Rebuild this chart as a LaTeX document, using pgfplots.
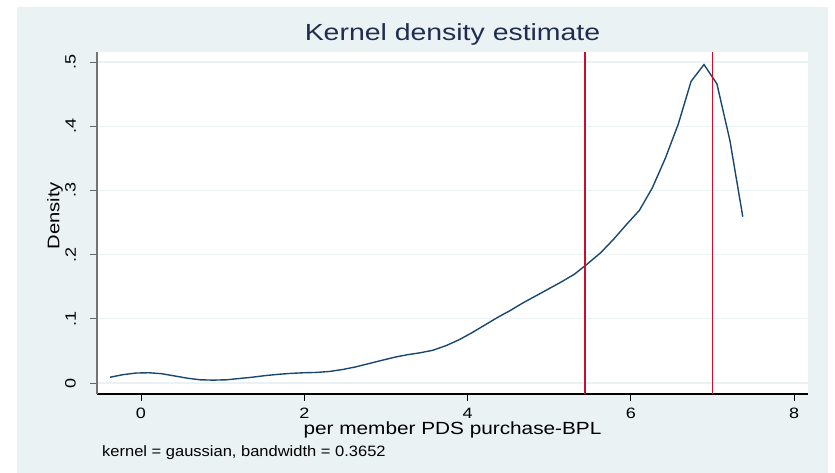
\documentclass[border=0pt]{standalone}
\usepackage{pgfplots}
\pgfplotsset{compat=1.18}
\usepackage{fontspec}
\setmainfont{Liberation Sans}
\definecolor{bgc}{HTML}{EAF2F3}
\definecolor{navy}{HTML}{1A476F}
\definecolor{vred}{HTML}{C8102E}
\definecolor{ttl}{HTML}{1F2D50}
\newcommand{\sx}[1]{\scalebox{1.2}[1]{#1}}
\begin{document}
\begin{tikzpicture}[x=1pt,y=1pt]
\path[use as bounding box] (0,0) rectangle (835,473);
\fill[bgc] (17,0) rectangle (828,466);
\begin{axis}[
  at={(97pt,79pt)}, anchor=south west,
  scale only axis, width=711pt, height=342pt,
  xmin=-0.539, xmax=8.171, ymin=-0.0171, ymax=0.5156,
  axis background/.style={fill=white},
  axis lines*=left,
  x axis line style={black, line width=1.2pt},
  y axis line style={black!55, line width=1.2pt},
  tick align=outside, major tick length=7pt,
  xtick pos=left, ytick pos=left,
  x tick style={black, line width=1pt},
  y tick style={black!60, line width=1pt},
  xtick={0,2,4,6,8},
  xticklabels={\sx{0},\sx{2},\sx{4},\sx{6},\sx{8}},
  ytick={0,0.1,0.2,0.3,0.4,0.5},
  yticklabels={\sx{0},\sx{.1},\sx{.2},\sx{.3},\sx{.4},\sx{.5}},
  xticklabel style={font=\fontsize{15}{18}\selectfont, anchor=north, inner sep=0pt, yshift=-7.3pt},
  yticklabel style={font=\fontsize{15}{18}\selectfont, xshift=-14pt, rotate=90, anchor=south, inner sep=0pt},
  ymajorgrids, xmajorgrids=false,
  major grid style={bgc, line width=1.3pt},
  title={\scalebox{1.22}[1]{Kernel density estimate}},
  title style={at={(axis description cs:0.5,1)}, anchor=base, yshift=5pt, font=\fontsize{23.3}{28}\selectfont, text=ttl, inner sep=0pt},
  xlabel={\scalebox{1.18}[1]{per member PDS purchase-BPL}},
  xlabel style={at={(axis description cs:0.5,0)}, anchor=base, yshift=-41pt, font=\fontsize{17.6}{20}\selectfont, inner sep=0pt},
  ylabel={\scalebox{1.2}[1]{Density}},
  ylabel style={at={(axis description cs:-0.053,0.521)}, anchor=base, font=\fontsize{16.8}{20}\selectfont, inner sep=0pt},
  clip=true,
]
\addplot[navy, line width=1.4pt] coordinates {
(-0.380,0.009) (-0.222,0.013) (-0.064,0.0155) (0.095,0.016) (0.253,0.0145)
(0.411,0.011) (0.569,0.0075) (0.727,0.005) (0.886,0.0045) (1.044,0.005)
(1.202,0.007) (1.360,0.009) (1.518,0.0115) (1.677,0.0135) (1.835,0.015)
(1.993,0.016) (2.151,0.0165) (2.309,0.018) (2.468,0.021) (2.626,0.025)
(2.784,0.030) (2.942,0.035) (3.100,0.040) (3.259,0.044) (3.417,0.047)
(3.575,0.051) (3.733,0.058) (3.891,0.067) (4.050,0.078) (4.208,0.090)
(4.366,0.102) (4.524,0.113) (4.682,0.125) (4.841,0.136) (4.999,0.147)
(5.157,0.158) (5.315,0.170) (5.473,0.186) (5.632,0.203) (5.790,0.224)
(5.948,0.247) (6.106,0.269) (6.264,0.304) (6.423,0.350) (6.581,0.403)
(6.739,0.470) (6.897,0.496) (7.055,0.466) (7.214,0.378) (7.372,0.259)
};
\addplot[vred, line width=1.5pt] coordinates {(5.44,-0.0171) (5.44,0.5156)};
\addplot[vred, line width=1.5pt] coordinates {(7.0,-0.0171) (7.0,0.5156)};
\end{axis}
\node[anchor=base west, inner sep=0pt, font=\fontsize{15}{18}\selectfont] at (102,16.3) {\scalebox{1.1}[1]{kernel = gaussian, bandwidth = 0.3652}};
\end{tikzpicture}
\end{document}
